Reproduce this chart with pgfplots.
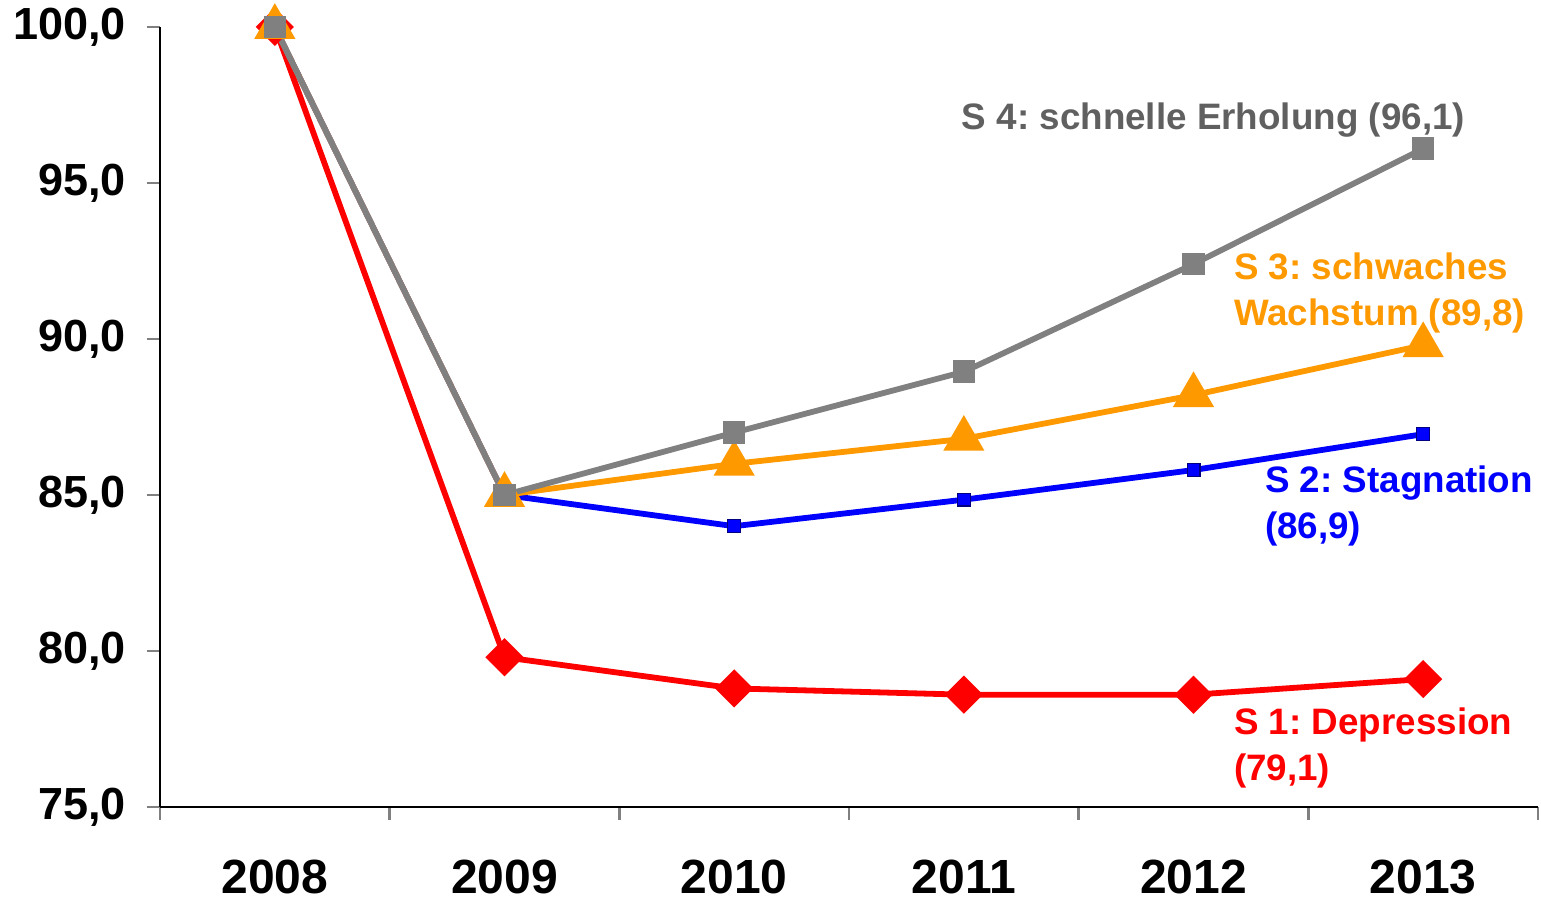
\documentclass[border=0pt]{standalone}
\usepackage{pgfplots}
\pgfplotsset{compat=1.18}
\usepackage{fontspec}
\setmainfont{Liberation Sans}
\frenchspacing
\definecolor{sred}{RGB}{255,0,0}
\definecolor{sblue}{RGB}{0,0,255}
\definecolor{sorange}{RGB}{255,153,0}
\definecolor{sgray}{RGB}{128,128,128}
\definecolor{sgraytext}{RGB}{96,96,96}
\begin{document}
\begin{tikzpicture}
\begin{axis}[
  scale only axis,
  width=689pt, height=390pt,
  xmin=-0.5, xmax=5.5,
  ymin=75, ymax=100,
  axis x line*=bottom, axis y line*=left,
  axis line style={line width=1.2pt},
  xtick={0,...,5},
  xticklabels={2008,2009,2010,2011,2012,2013},
  major x tick style={draw=none},
  minor xtick={-0.5,0.5,1.5,2.5,3.5,4.5,5.5},
  minor x tick style={line width=1.2pt},
  minor tick length=6.5pt,
  ytick={75,80,...,100},
  yticklabels={{75,0},{80,0},{85,0},{90,0},{95,0},{100,0}},
  y tick style={line width=1.2pt},
  major tick length=6.5pt,
  tick align=outside,
  xticklabel style={font=\fontsize{24}{27}\selectfont\bfseries, yshift=-16.5pt},
  yticklabel style={font=\fontsize{22.5}{25}\selectfont\bfseries, xshift=-7pt},
  clip=false,
]
\addplot[sred, line width=2.9pt, mark=square*, mark size=5.3pt, mark options={rotate=45, solid}]
coordinates {(0,100) (1,79.8) (2,78.8) (3,78.6) (4,78.6) (5,79.1)};
\addplot[sblue, line width=2.9pt, mark=square*, mark size=3.2pt, mark options={draw=blue!50!black, fill=sblue, line width=0.6pt}]
coordinates {(0,100) (1,85.0) (2,84.0) (3,84.85) (4,85.8) (5,86.95)};
\addplot[sorange, line width=2.9pt, mark=triangle*, mark size=9pt, mark options={solid}]
coordinates {(0,100) (1,85.0) (2,86.0) (3,86.8) (4,88.2) (5,89.8)};
\addplot[sgray, line width=2.9pt, mark=square*, mark size=4.2pt, mark options={solid}]
coordinates {(0,100) (1,85.0) (2,87.0) (3,88.95) (4,92.4) (5,96.1)};
\node[anchor=west, inner sep=0pt, text=sgraytext, font=\fontsize{18.4}{23}\selectfont\bfseries]
  at (axis cs:2.99,97.02) {S 4: schnelle Erholung (96,1)};
\node[anchor=west, inner sep=0pt, align=left, text=sorange, font=\fontsize{18.4}{23}\selectfont\bfseries]
  at (axis cs:4.175,91.47) {S 3: schwaches\\Wachstum (89,8)};
\node[anchor=west, inner sep=0pt, align=left, text=sblue, font=\fontsize{18.4}{23}\selectfont\bfseries]
  at (axis cs:4.31,84.64) {S 2: Stagnation\\(86,9)};
\node[anchor=west, inner sep=0pt, align=left, text=sred, font=\fontsize{18.4}{23}\selectfont\bfseries]
  at (axis cs:4.175,76.89) {S 1: Depression\\(79,1)};
\end{axis}
\path[use as bounding box] (-80pt,-45.5pt) rectangle (690.5pt,403.5pt);
\end{tikzpicture}
\end{document}
